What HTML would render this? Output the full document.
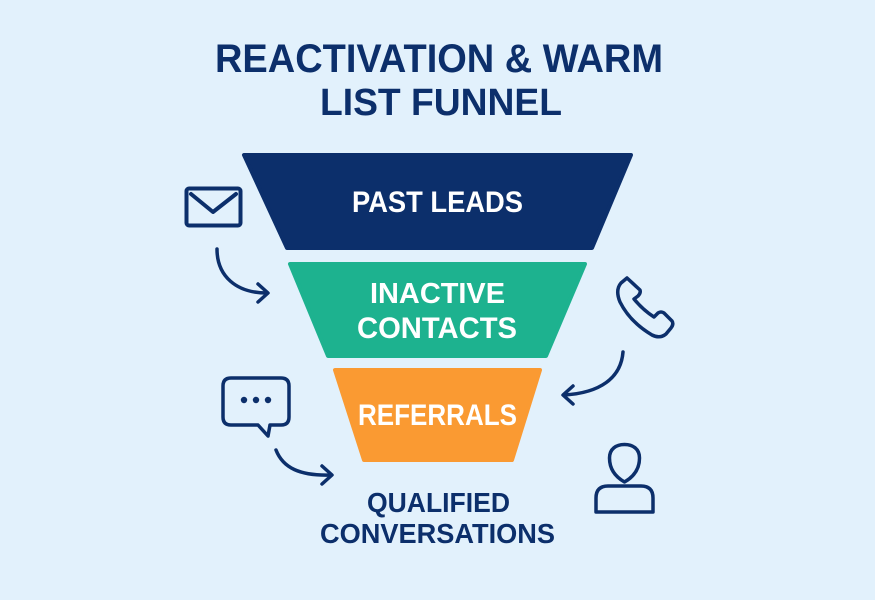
<!DOCTYPE html>
<html>
<head>
<meta charset="utf-8">
<style>
  html,body{margin:0;padding:0;background:#e2f1fc;}
  body{width:875px;height:600px;overflow:hidden;}
  svg{display:block;}
  text{font-family:"Liberation Sans",sans-serif;font-weight:bold;}
</style>
</head>
<body>
<svg width="875" height="600" viewBox="0 0 875 600" xmlns="http://www.w3.org/2000/svg">
  <rect width="875" height="600" fill="#e2f1fc"/>

  <!-- Title -->
  <text x="215" y="72" font-size="40" fill="#0c2f6b" textLength="448" lengthAdjust="spacingAndGlyphs">REACTIVATION &amp; WARM</text>
  <text x="320" y="115" font-size="38" fill="#0c2f6b" textLength="242" lengthAdjust="spacingAndGlyphs">LIST FUNNEL</text>

  <!-- Funnel -->
  <polygon points="244,155 631,155 592,248 287,248" fill="#0c2f6b" stroke="#0c2f6b" stroke-width="4" stroke-linejoin="round"/>
  <text x="352" y="212" font-size="30" fill="#ffffff" textLength="171" lengthAdjust="spacingAndGlyphs">PAST LEADS</text>

  <polygon points="290,264 585,264 546,356 328,356" fill="#1db28f" stroke="#1db28f" stroke-width="4" stroke-linejoin="round"/>
  <text x="370" y="303" font-size="29" fill="#ffffff" textLength="135" lengthAdjust="spacingAndGlyphs">INACTIVE</text>
  <text x="357" y="338" font-size="30" fill="#ffffff" textLength="160" lengthAdjust="spacingAndGlyphs">CONTACTS</text>

  <polygon points="335,370 540,370 512,460 364,460" fill="#fa9a32" stroke="#fa9a32" stroke-width="4" stroke-linejoin="round"/>
  <text x="358" y="425" font-size="30" fill="#ffffff" textLength="159" lengthAdjust="spacingAndGlyphs">REFERRALS</text>

  <!-- Output label -->
  <text x="367" y="512" font-size="28" fill="#0c2f6b" textLength="143" lengthAdjust="spacingAndGlyphs">QUALIFIED</text>
  <text x="320" y="543" font-size="28" fill="#0c2f6b" textLength="235" lengthAdjust="spacingAndGlyphs">CONVERSATIONS</text>

  <g fill="none" stroke="#0c2f6b" stroke-linecap="round" stroke-linejoin="round">
    <!-- Envelope -->
    <rect x="186.5" y="188.5" width="54" height="37" rx="2.5" stroke-width="4"/>
    <polyline points="191,194 213,212 236,194" stroke-width="4"/>
    <!-- Arrow 1 -->
    <path d="M217,249 C217,276 236,293 267,293" stroke-width="3.5"/>
    <polyline points="258,284 268,293 258,302" stroke-width="3.5"/>

    <!-- Chat bubble -->
    <path d="M231,378 L281,378 Q289,378 289,386 L289,417 Q289,425 281,425 L270,425 L268,436 L258,425 L231,425 Q223,425 223,417 L223,386 Q223,378 231,378 Z" stroke-width="3.5"/>
    <!-- Arrow 2 -->
    <path d="M276,450 C283,468 300,476 331,475" stroke-width="3.5"/>
    <polyline points="322,466 332,475 322,484" stroke-width="3.5"/>

    <!-- Phone -->
    <path d="M627,278 L640,290 Q641,293 638,296 L634,299 Q643,310 654,317 L658,313 Q661,311 664,313 L672,321 Q674,324 671,328 L666,334 Q660,339 652,335 Q630,322 620,302 Q615,290 621,283 Z" stroke-width="3.5"/>
    <!-- Arrow 3 -->
    <path d="M623,352 C621,378 600,393 564,395" stroke-width="3.5"/>
    <polyline points="573,386 563,395 573,404" stroke-width="3.5"/>

    <!-- Person -->
    <path d="M624.5,482 C614,476 609.5,468 609.5,458 C609.5,449 616,444.5 624.5,444.5 C633,444.5 639.5,449 639.5,458 C639.5,468 635,476 624.5,482 Z" stroke-width="3.5"/>
    <path d="M596,512 L596,498 Q596,486 608,486 L641,486 Q653,486 653,498 L653,512 Z" stroke-width="3.5"/>
  </g>
  <g fill="#0c2f6b">
    <circle cx="244" cy="400" r="3.2"/>
    <circle cx="256" cy="400" r="3.2"/>
    <circle cx="268" cy="400" r="3.2"/>
  </g>
</svg>
</body>
</html>
